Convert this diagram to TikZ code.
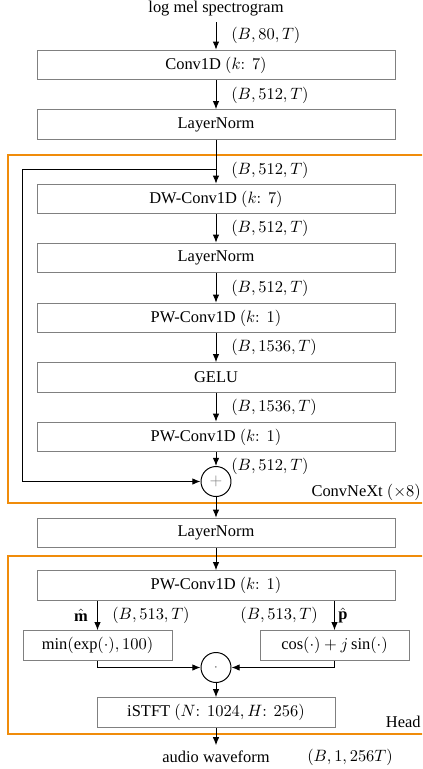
\documentclass[tikz,border=0pt]{standalone}
\usepackage{fontspec}
\setmainfont{Liberation Serif}
\usetikzlibrary{arrows.meta}
\definecolor{frameorange}{RGB}{240,140,10}
\def\pxu{0.6083pt}
\newcommand\kcol[2]{#1\colon\ #2}
\begin{document}
\begin{tikzpicture}[x=\pxu,y=-\pxu,
  box/.style={draw=black!50, line width=0.6pt, minimum height={29.5*\pxu}, inner sep=0pt},
  wbox/.style={box, minimum width={358*\pxu}},
  sbox/.style={box, minimum width={149*\pxu}},
  arr/.style={-{Latex[length=5pt,width=4pt]}, line width=0.6pt},
  op/.style={circle, draw, line width=0.6pt, minimum size={30*\pxu}, inner sep=0pt},
  lab/.style={anchor=west, inner sep=0pt},
  frame/.style={draw=frameorange, line width=1.1pt}]
\useasboundingbox (0,0) rectangle (422,769);
\clip (0,0) rectangle (422,769);
% frames
\draw[frame] (8,155) rectangle (440,503);
\draw[frame] (8,556) rectangle (440,734);
% nodes
\node (src) at (216,9) {log mel spectrogram};
\node[wbox] (conv) at (216,65) {Conv1D $(\kcol{k}{7})$};
\node[wbox] (ln1) at (216,124.5) {LayerNorm};
\node[wbox] (dw) at (216,199) {DW-Conv1D $(\kcol{k}{7})$};
\node[wbox] (ln2) at (216,258) {LayerNorm};
\node[wbox] (pw1) at (216,318) {PW-Conv1D $(\kcol{k}{1})$};
\node[wbox] (gelu) at (216,377.5) {GELU};
\node[wbox] (pw2) at (216,437) {PW-Conv1D $(\kcol{k}{1})$};
\node[op] (plus) at (216,481.5) {\color{black!50}$+$};
\node[wbox] (ln3) at (216,533) {LayerNorm};
\node[wbox] (pw3) at (216,585.5) {PW-Conv1D $(\kcol{k}{1})$};
\node[sbox] (mag) at (97.5,645.5) {$\min(\exp(\cdot),100)$};
\node[sbox] (ph) at (334.5,645.5) {$\cos(\cdot)+j\sin(\cdot)$};
\node[op] (mul) at (216,667.5) {\color{black!50}$\cdot$};
\node[box, minimum width={238*\pxu}] (istft) at (216,712.5) {iSTFT $(\kcol{N}{1024},\kcol{H}{256})$};
\node (out) at (216,757) {audio waveform};
\node (outdim) at (350,757) {$(B,1,256T)$};
% frame captions
\node[anchor=east, inner sep=0pt] (cnx) at (421,492) {ConvNeXt $(\times 8)$};
\node[anchor=east, inner sep=0pt] (head) at (421,722) {Head};
% shape labels
\node[lab] (l1) at (231,35.5) {$(B,80,T)$};
\node[lab] (l2) at (231,95) {$(B,512,T)$};
\node[lab] (l3) at (231,170) {$(B,512,T)$};
\node[lab] (l4) at (231,228.5) {$(B,512,T)$};
\node[lab] (l5) at (231,288.5) {$(B,512,T)$};
\node[lab] (l6) at (231,347.5) {$(B,1536,T)$};
\node[lab] (l7) at (231,407.5) {$(B,1536,T)$};
\node[lab] (l8) at (231,466) {$(B,512,T)$};
\node[inner sep=0pt] (lm) at (81,615.5) {$\hat{\mathbf{m}}$};
\node[lab] (l9) at (112,615.5) {$(B,513,T)$};
\node[anchor=east, inner sep=0pt] (l10) at (318,615.5) {$(B,513,T)$};
\node[lab] (lp) at (338,615.5) {$\hat{\mathbf{p}}$};
% connectors
\draw[arr] (src) -- (conv);
\draw[arr] (conv) -- (ln1);
\draw[arr] (ln1) -- (dw);
\coordinate (j) at (216,169);
\coordinate (fbtop) at (22.7,169);
\coordinate (fbbot) at (22.7,481.5);
\draw[arr] (j) -- (fbtop) -- (fbbot) -- (plus);
\draw[arr] (dw) -- (ln2);
\draw[arr] (ln2) -- (pw1);
\draw[arr] (pw1) -- (gelu);
\draw[arr] (gelu) -- (pw2);
\draw[arr] (pw2) -- (plus);
\draw[arr] (plus) -- (ln3);
\draw[arr] (ln3) -- (pw3);
\draw[arr] (pw3.south -| mag) -- (mag);
\draw[arr] (pw3.south -| ph) -- (ph);
\draw[arr] (mag.south) |- (mul);
\draw[arr] (ph.south) |- (mul);
\draw[arr] (mul) -- (istft);
\draw[arr] (istft) -- (out);
\end{tikzpicture}
\end{document}
